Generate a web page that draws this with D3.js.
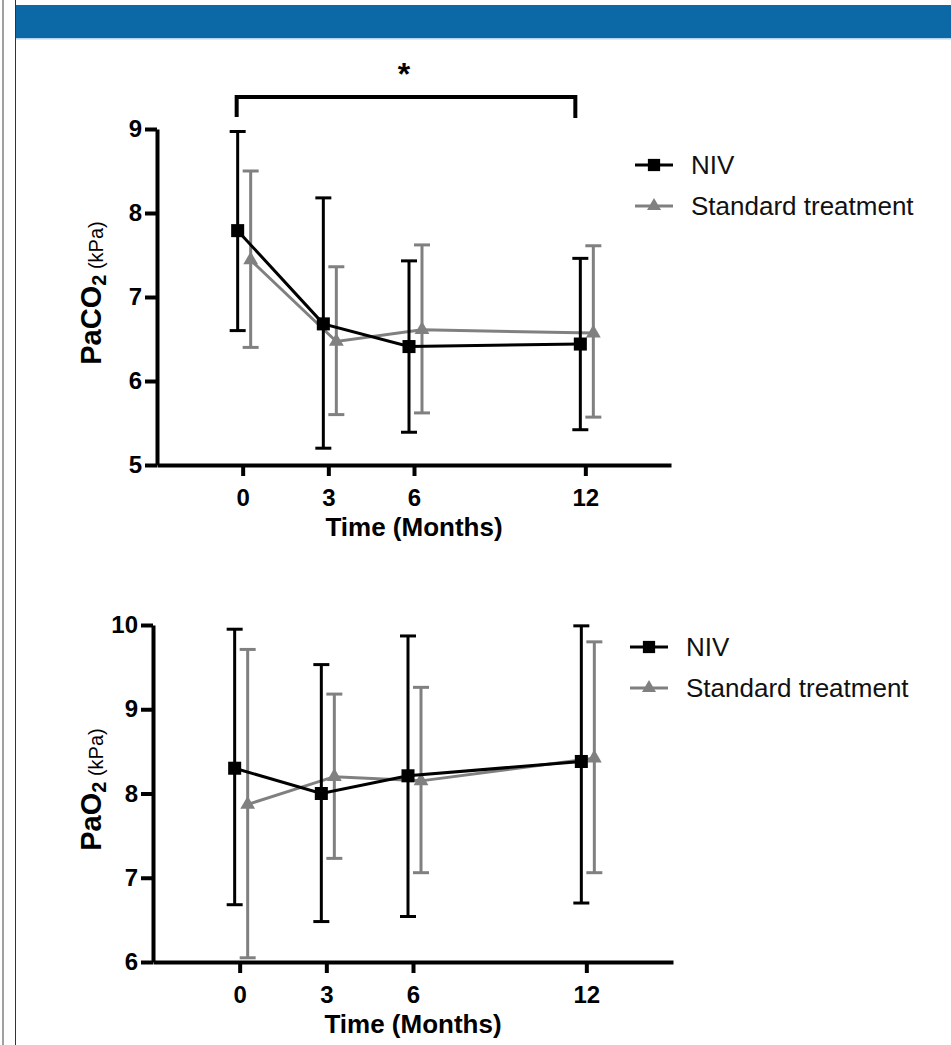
<!DOCTYPE html>
<html>
<head>
<meta charset="utf-8">
<script src="https://cdn.jsdelivr.net/npm/d3@7"></script>
<style>
  body { margin: 0; background: #fff; }
  svg { display: block; font-family: "Liberation Sans", Arial, sans-serif; }
</style>
</head>
<body>
<div id="chart"></div>
<script>
// time points (months) and axis ticks
const months = [0, 3, 6, 12];
const xTicks = [0, 3, 6, 12];
const seriesNames = ['NIV', 'Standard treatment'];

// PaCO2 (kPa), mean and error bar ends
const pacoNivMean = [7.79, 6.68, 6.41, 6.44];
const pacoNivLow = [6.60, 5.20, 5.39, 5.42];
const pacoNivHigh = [8.97, 8.18, 7.43, 7.46];
const pacoStdMean = [7.44, 6.47, 6.61, 6.57];
const pacoStdLow = [6.40, 5.60, 5.62, 5.57];
const pacoStdHigh = [8.50, 7.36, 7.62, 7.61];
const pacoTicks = [5, 6, 7, 8, 9];

// PaO2 (kPa)
const paoNivMean = [8.30, 8.00, 8.21, 8.38];
const paoNivLow = [6.68, 6.48, 6.54, 6.70];
const paoNivHigh = [9.95, 9.53, 9.87, 9.99];
const paoStdMean = [7.87, 8.20, 8.15, 8.42];
const paoStdLow = [6.05, 7.23, 7.06, 7.06];
const paoStdHigh = [9.71, 9.18, 9.26, 9.80];
const paoTicks = [6, 7, 8, 9, 10];

// significance bracket on the PaCO2 panel
const sigFrom = 0;
const sigTo = 12;
const sigLabel = '*';

const W = 951, H = 1045;
const svg = d3.select('#chart').append('svg')
  .attr('width', W)
  .attr('height', H);

// page frame: grey rule, dark rule and blue banner
svg.append('rect').attr('x', 2).attr('y', 0).attr('width', 2).attr('height', H).attr('fill', '#a0a0a0');
svg.append('rect').attr('x', 15).attr('y', 0).attr('width', 1).attr('height', H).attr('fill', '#333');
svg.append('rect').attr('x', 16).attr('y', 5).attr('width', W - 16).attr('height', 33).attr('fill', '#0d68a6');
svg.append('rect').attr('x', 16).attr('y', 38).attr('width', W - 16).attr('height', 1.5).attr('fill', '#b5d6ea');

const black = '#000';
const grey = '#808080';

function drawPanel(cfg) {
  const x = d3.scaleLinear().domain([-3, 15]).range([cfg.left, cfg.right]);
  const y = d3.scaleLinear().domain(cfg.yDomain).range([cfg.bottom, cfg.top]);
  const g = svg.append('g');

  // y axis
  const yAxis = g.append('g')
    .attr('transform', `translate(${cfg.left},0)`)
    .call(d3.axisLeft(y).tickValues(cfg.yTicks).tickFormat(d3.format('d'))
      .tickSize(12).tickSizeOuter(0).tickPadding(3));
  // x axis
  const xAxis = g.append('g')
    .attr('transform', `translate(0,${cfg.bottom})`)
    .call(d3.axisBottom(x).tickValues(xTicks).tickSize(11).tickSizeOuter(0).tickPadding(13));
  [yAxis, xAxis].forEach(a => {
    a.select('.domain').attr('stroke', black).attr('stroke-width', 4);
    a.selectAll('.tick line').attr('stroke', black).attr('stroke-width', 4);
    a.selectAll('.tick text')
      .attr('fill', black)
      .attr('font-size', 24)
      .attr('font-weight', 'bold');
  });

  // axis titles
  g.append('text')
    .attr('x', (cfg.left + cfg.right) / 2)
    .attr('y', cfg.bottom + 71)
    .attr('text-anchor', 'middle')
    .attr('font-size', 26)
    .attr('font-weight', 'bold')
    .text('Time (Months)');

  const yl = g.append('text')
    .attr('transform', `translate(101,${(cfg.top + cfg.bottom) / 2 - 4}) rotate(-90)`)
    .attr('text-anchor', 'middle');
  yl.append('tspan').attr('font-size', 29).attr('font-weight', 'bold').text(cfg.yName);
  yl.append('tspan').attr('font-size', 20).attr('font-weight', 'bold').attr('dy', 5).text('2');
  yl.append('tspan').attr('font-size', 20).attr('dy', -3).text(' (kPa)');

  const series = [
    { name: seriesNames[1], mean: cfg.std[0], low: cfg.std[1], high: cfg.std[2], color: grey, dodge: 8, shape: d3.symbolTriangle, size: 95 },
    { name: seriesNames[0], mean: cfg.niv[0], low: cfg.niv[1], high: cfg.niv[2], color: black, dodge: -5, shape: d3.symbolSquare, size: 170 }
  ];

  series.forEach(s => {
    const pts = months.map((m, i) => ({ m, v: s.mean[i], lo: s.low[i], hi: s.high[i] }));
    const px = d => x(d.m) + s.dodge;
    const sg = g.append('g');

    // error bars
    sg.selectAll('line.bar').data(pts).join('line')
      .attr('class', 'bar')
      .attr('x1', px).attr('x2', px)
      .attr('y1', d => y(d.lo)).attr('y2', d => y(d.hi))
      .attr('stroke', s.color).attr('stroke-width', 3);
    ['lo', 'hi'].forEach(k => {
      sg.selectAll('line.cap' + k).data(pts).join('line')
        .attr('class', 'cap' + k)
        .attr('x1', d => px(d) - 8).attr('x2', d => px(d) + 8)
        .attr('y1', d => y(d[k])).attr('y2', d => y(d[k]))
        .attr('stroke', s.color).attr('stroke-width', 3);
    });

    // mean line
    sg.append('path')
      .datum(pts)
      .attr('fill', 'none')
      .attr('stroke', s.color)
      .attr('stroke-width', 3)
      .attr('d', d3.line().x(px).y(d => y(d.v)));

    // markers
    sg.selectAll('path.mk').data(pts).join('path')
      .attr('class', 'mk')
      .attr('transform', d => `translate(${px(d)},${y(d.v)})`)
      .attr('d', d3.symbol().type(s.shape).size(s.size))
      .attr('fill', s.color);
  });

  // legend
  const lg = g.append('g').attr('transform', `translate(${cfg.legendX},${cfg.legendY})`);
  [series[1], series[0]].forEach((s, i) => {
    const row = lg.append('g').attr('transform', `translate(0,${i * 41})`);
    row.append('line').attr('x1', 0).attr('x2', 38).attr('stroke', s.color).attr('stroke-width', 3);
    row.append('path').attr('transform', 'translate(19,0)')
      .attr('d', d3.symbol().type(s.shape).size(s.shape === d3.symbolSquare ? 150 : 85))
      .attr('fill', s.color);
    row.append('text').attr('x', 56).attr('y', 9)
      .attr('font-size', 26)
      .attr('fill', '#111')
      .text(s.name);
  });

  return { x, y, g };
}

const topPanel = drawPanel({
  left: 157, right: 671, top: 129, bottom: 465,
  yDomain: [5, 9], yTicks: pacoTicks, yName: 'PaCO',
  niv: [pacoNivMean, pacoNivLow, pacoNivHigh],
  std: [pacoStdMean, pacoStdLow, pacoStdHigh],
  legendX: 635, legendY: 165
});

drawPanel({
  left: 153, right: 673, top: 625, bottom: 962,
  yDomain: [6, 10], yTicks: paoTicks, yName: 'PaO',
  niv: [paoNivMean, paoNivLow, paoNivHigh],
  std: [paoStdMean, paoStdLow, paoStdHigh],
  legendX: 630, legendY: 647
});

// significance bracket between month 0 and 12
const bx1 = topPanel.x(sigFrom) - 6, bx2 = topPanel.x(sigTo) - 10;
topPanel.g.append('path')
  .attr('d', `M${bx1},117V97H${bx2}V118`)
  .attr('fill', 'none')
  .attr('stroke', black)
  .attr('stroke-width', 4);
topPanel.g.append('text')
  .attr('x', (bx1 + bx2) / 2 - 2)
  .attr('y', 85)
  .attr('text-anchor', 'middle')
  .attr('font-size', 32)
  .attr('font-weight', 'bold')
  .text(sigLabel);
</script>
</body>
</html>
